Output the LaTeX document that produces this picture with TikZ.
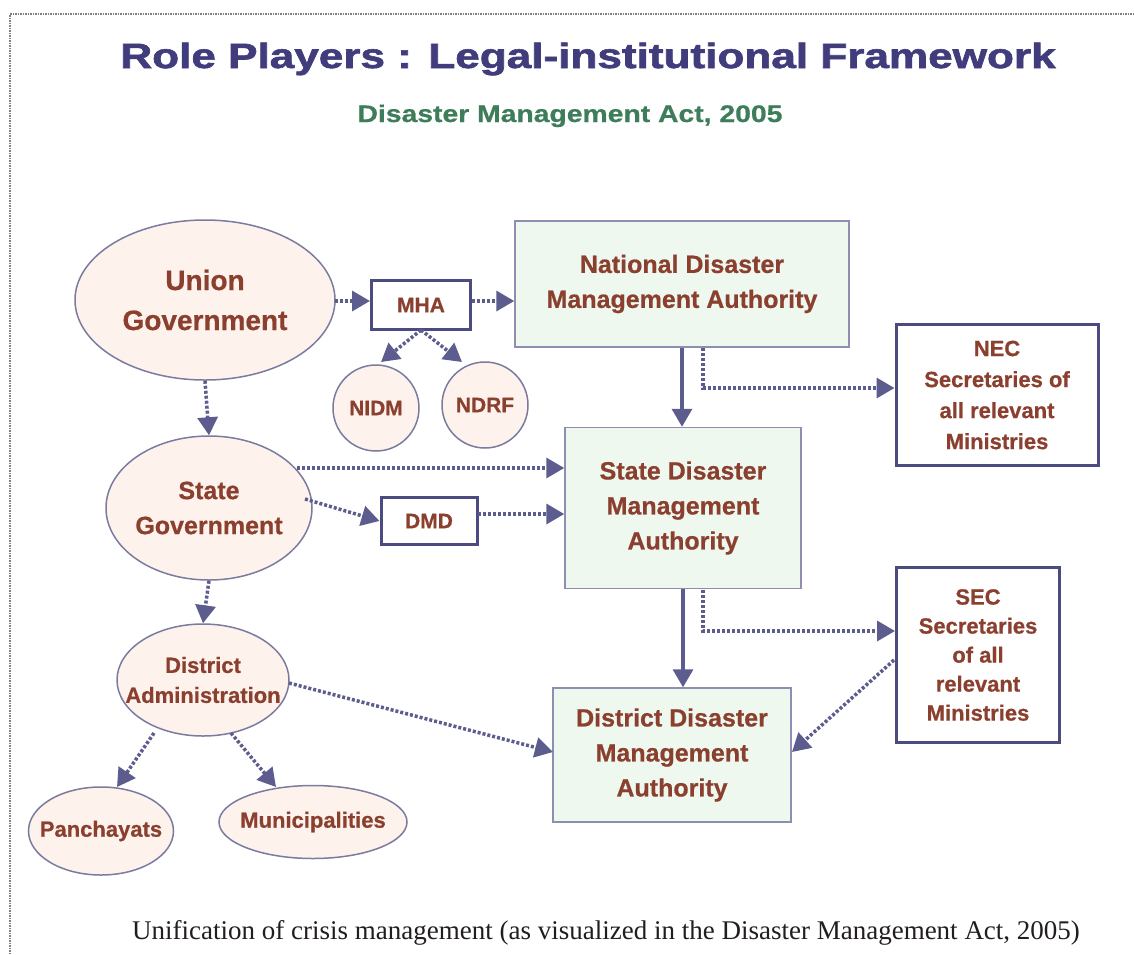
\documentclass[tikz,border=0pt]{standalone}
\usepackage{fontspec}
\setmainfont{Liberation Sans}[BoldFeatures={FakeBold=0.6}]
\newfontfamily\titlefont{Liberation Sans Bold}[FakeBold=1.6]
\newfontfamily\capfont{Liberation Serif}
\usetikzlibrary{shapes.geometric,arrows.meta}
\definecolor{titleblue}{RGB}{65,61,125}
\definecolor{subgreen}{RGB}{61,125,90}
\definecolor{txtbrown}{RGB}{139,63,47}
\definecolor{pinkfill}{RGB}{253,242,236}
\definecolor{ellline}{RGB}{123,123,160}
\definecolor{greenfill}{RGB}{238,248,239}
\definecolor{gline}{RGB}{142,142,176}
\definecolor{darkline}{RGB}{75,75,128}
\definecolor{arrc}{RGB}{92,92,142}
\definecolor{capcol}{RGB}{34,30,30}
\tikzset{
  ell/.style={ellipse, draw=ellline, fill=pinkfill, line width=1.5pt, inner sep=0pt},
  etext/.style={text=txtbrown, align=center, inner sep=0pt},
  gbox/.style={rectangle, draw=gline, fill=greenfill, line width=1.5pt, inner sep=0pt, text=txtbrown, align=center, font=\bfseries\fontsize{25}{35}\selectfont},
  wbox/.style={rectangle, draw=darkline, fill=white, line width=3pt, inner sep=0pt, text=txtbrown, align=center, font=\bfseries\fontsize{22}{31}\selectfont},
  dotarr/.style={draw=arrc, line width=3.5pt, dash pattern=on 3pt off 2pt, -{Triangle[length=18pt,width=20pt]}},
  solarr/.style={draw=arrc, line width=3.5pt, -{Triangle[length=18pt,width=20pt]}}
}
\begin{document}
\begin{tikzpicture}[x=1pt,y=-1pt]
\useasboundingbox (0,0) rectangle (1134,954);
\fill[white] (0,0) rectangle (1134,954);
\draw[gray, line width=2pt, dash pattern=on 1.5pt off 1pt] (10,954) -- (10,14) -- (1134,14);
% titles
\node[anchor=base, text=titleblue, font=\titlefont\fontsize{35}{40}\selectfont] (title) at (588,68) {\scalebox{1.26}[1]{Role Players : Legal-institutional Framework}};
\node[anchor=base, text=subgreen, font=\bfseries\fontsize{24}{28}\selectfont] (sub) at (570,122) {\scalebox{1.18}[1]{Disaster Management Act, 2005}};
% ellipse nodes
\node[ell, minimum width=260pt, minimum height=160pt] (union) at (205,300) {};
\node[etext, font=\bfseries\fontsize{28}{40}\selectfont] (union-t) at (union.center) {Union\\Government};
\node[ell, minimum width=206pt, minimum height=144pt] (state) at (209,508) {};
\node[etext, font=\bfseries\fontsize{25}{35}\selectfont] (state-t) at (state.center) {State\\Government};
\node[ell, minimum width=172pt, minimum height=112pt] (district) at (203,680) {};
\node[etext, font=\bfseries\fontsize{22}{30}\selectfont] (district-t) at (district.center) {District\\Administration};
\node[ell, minimum width=145pt, minimum height=88pt] (panch) at (101,831) {};
\node[etext, font=\bfseries\fontsize{22}{30}\selectfont] (panch-t) at (panch.center) {Panchayats};
\node[ell, minimum width=188pt, minimum height=73pt] (muni) at (313,822) {};
\node[etext, font=\bfseries\fontsize{22}{30}\selectfont] (muni-t) at (muni.center) {Municipalities};
\node[ell, circle, minimum size=86pt] (nidm) at (376,408) {};
\node[etext, font=\bfseries\fontsize{21}{28}\selectfont] (nidm-t) at (nidm.center) {NIDM};
\node[ell, circle, minimum size=86pt] (ndrf) at (485,405) {};
\node[etext, font=\bfseries\fontsize{21}{28}\selectfont] (ndrf-t) at (ndrf.center) {NDRF};
% boxes
\node[wbox, minimum width=99pt, minimum height=49pt, font=\bfseries\fontsize{21}{28}\selectfont] (mha) at (421,305) {MHA};
\node[wbox, minimum width=96pt, minimum height=47pt, font=\bfseries\fontsize{21}{28}\selectfont] (dmd) at (429,521) {DMD};
\node[gbox, minimum width=334pt, minimum height=126pt] (ndma) at (682,284) {National Disaster\\Management Authority};
\node[gbox, minimum width=236pt, minimum height=161pt] (sdma) at (683,508) {State Disaster\\Management\\Authority};
\node[gbox, minimum width=238pt, minimum height=134pt] (ddma) at (672,755) {District Disaster\\Management\\Authority};
\node[wbox, minimum width=202pt, minimum height=141pt] (nec) at (997,395) {NEC\\Secretaries of\\all relevant\\Ministries};
\node[wbox, minimum width=163pt, minimum height=175pt, font=\bfseries\fontsize{22}{29}\selectfont] (sec) at (978,655) {SEC\\Secretaries\\of all\\relevant\\Ministries};
% caption
\node[text=capcol, font=\capfont\fontsize{27}{30}\selectfont] (cap) at (606,933) {Unification of crisis management (as visualized in the Disaster Management Act, 2005)};
% connectors
\coordinate (u1) at (335,301);
\draw[dotarr] (u1) -- (u1 -| mha.west);
\draw[dotarr] (mha.east |- u1) -- (u1 -| ndma.west);
\coordinate (m1) at (421,330);
\coordinate (ni1) at (381,362);
\coordinate (nd1) at (462,362);
\draw[dotarr] (m1) -- (ni1);
\draw[dotarr] (m1) -- (nd1);
\draw[dotarr] (union.south) -- (state.north);
\draw[dotarr] (state.south) -- (district.north);
\draw[solarr] (ndma.south) -- (ndma.south |- sdma.north);
\draw[solarr] (sdma.south) -- (sdma.south |- ddma.north);
\coordinate (n1) at (703,348);
\coordinate (n2) at (703,388);
\draw[dotarr] (n1) -- (n2) -- (n2 -| nec.west);
\coordinate (s1) at (703,590);
\coordinate (s2) at (703,631);
\draw[dotarr] (s1) -- (s2) -- (s2 -| sec.west);
\coordinate (st1) at (297,468);
\draw[dotarr] (st1) -- (st1 -| sdma.west);
\coordinate (st2) at (305,499);
\draw[dotarr] (st2) -- (dmd.west);
\coordinate (d1) at (478,514);
\draw[dotarr] (d1) -- (d1 -| sdma.west);
\coordinate (se1) at (894,660);
\coordinate (dd1) at (792,752);
\draw[dotarr] (se1) -- (dd1);
\coordinate (di1) at (289,683);
\coordinate (dd2) at (553,752);
\draw[dotarr] (di1) -- (dd2);
\coordinate (di2) at (154,733);
\coordinate (pa1) at (117,787);
\draw[dotarr] (di2) -- (pa1);
\coordinate (di3) at (231,733);
\coordinate (mu1) at (276,787);
\draw[dotarr] (di3) -- (mu1);
\end{tikzpicture}
\end{document}
